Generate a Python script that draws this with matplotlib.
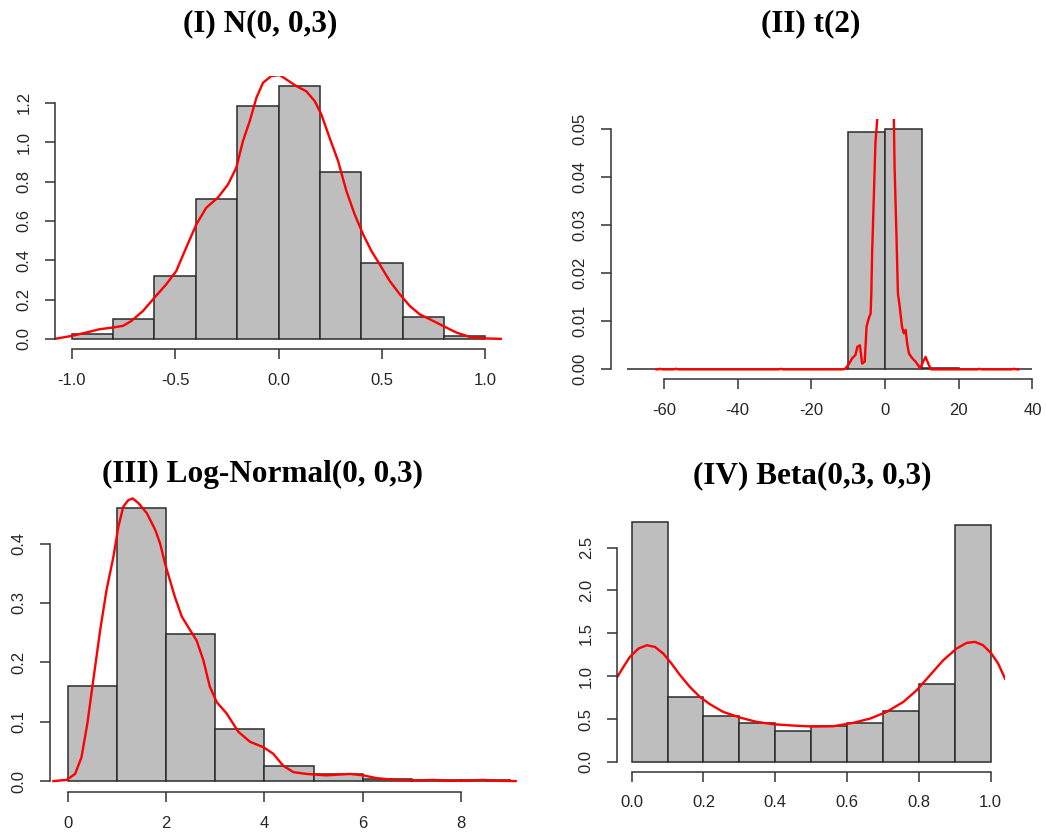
import numpy as np
import matplotlib.pyplot as plt

W, H = 1046, 840

# (I) N(0, 0,3)
n_breaks = [-1.0, -0.8, -0.6, -0.4, -0.2, 0.0, 0.2, 0.4, 0.6, 0.8, 1.0]
n_dens = [0.027, 0.10, 0.32, 0.709, 1.186, 1.285, 0.848, 0.388, 0.113, 0.015]
n_kx = [-1.082, -1.0, -0.93, -0.865, -0.80, -0.752, -0.711, -0.655, -0.599, -0.542,
        -0.494, -0.446, -0.397, -0.349, -0.293, -0.244, -0.204, -0.172, -0.139, -0.107,
        -0.075, -0.035, 0.006, 0.038, 0.086, 0.134, 0.175, 0.207, 0.247, 0.288,
        0.328, 0.368, 0.409, 0.449, 0.489, 0.537, 0.586, 0.634, 0.682, 0.731,
        0.795, 0.860, 0.924, 1.005, 1.078]
n_ky = [0.0, 0.015, 0.032, 0.049, 0.058, 0.066, 0.091, 0.142, 0.210, 0.278,
        0.345, 0.464, 0.582, 0.667, 0.718, 0.785, 0.870, 1.005, 1.107, 1.225,
        1.302, 1.336, 1.341, 1.319, 1.285, 1.259, 1.209, 1.141, 1.022, 0.904,
        0.752, 0.633, 0.531, 0.447, 0.379, 0.295, 0.227, 0.168, 0.125, 0.100,
        0.066, 0.032, 0.010, 0.002, 0.0]

# (II) t(2)
t_breaks = [-70, -60, -50, -40, -30, -20, -10, 0, 10, 20, 30, 40]
t_dens = [0.0001, 0.0001, 0.0, 0.0, 0.0001, 0.0, 0.0493, 0.0500, 0.0002, 0.0001, 0.0001]
t_kx = [-62.0, -61.6, -60.9, -60.3, -57.3, -56.7, -56.1, -28.9, -28.2, -27.5,
        -11.3, -10.7, -9.8, -8.9, -8.0, -7.5, -6.8, -6.2, -5.5, -5.0,
        -4.4, -3.9, -3.7, -3.5, -3.0, -2.6, -2.1, -1.5, 0.0, 1.8,
        2.4, 2.6, 3.1, 3.5, 4.0, 4.6, 5.1, 5.6, 6.0, 6.5,
        7.4, 8.3, 9.2, 9.6, 10.1, 11.0, 11.9, 12.5, 25.0, 25.6,
        26.2, 34.4, 35.0, 35.6, 36.2]
t_ky = [0.0, 0.0, 0.00012, 0.0, 0.0, 0.00013, 0.0, 0.0, 0.00011, 0.0,
        0.0, 0.0002, 0.0011, 0.0023, 0.003, 0.0047, 0.005, 0.0012, 0.0016, 0.0089,
        0.0106, 0.0116, 0.0158, 0.024, 0.0366, 0.047, 0.052, 0.07, 0.1, 0.07,
        0.052, 0.042, 0.028, 0.0158, 0.013, 0.0089, 0.0075, 0.0082, 0.0054, 0.0033,
        0.0023, 0.0016, 0.0006, 0.0002, 0.0012, 0.0026, 0.0009, 0.0, 0.0, 0.00012,
        0.0, 0.0, 0.00012, 0.0, 0.0]

# (III) Log-Normal(0, 0,3)
l_breaks = [0, 1, 2, 3, 4, 5, 6, 7, 8, 9]
l_dens = [0.160, 0.460, 0.248, 0.087, 0.026, 0.012, 0.0034, 0.001, 0.001]
l_kx = [-0.29, -0.02, 0.15, 0.28, 0.40, 0.52, 0.66, 0.79, 0.93, 1.03,
        1.13, 1.23, 1.32, 1.44, 1.61, 1.78, 1.88, 1.98, 2.08, 2.18,
        2.32, 2.49, 2.62, 2.76, 2.89, 3.03, 3.23, 3.47, 3.71, 3.98,
        4.18, 4.38, 4.59, 4.86, 5.26, 5.74, 6.01, 6.28, 6.62, 7.09,
        7.43, 7.70, 8.11, 8.45, 8.65, 9.11]
l_ky = [0.0, 0.002, 0.012, 0.040, 0.097, 0.170, 0.254, 0.322, 0.378, 0.428,
        0.462, 0.473, 0.476, 0.468, 0.451, 0.423, 0.400, 0.366, 0.338, 0.310,
        0.277, 0.254, 0.237, 0.203, 0.159, 0.133, 0.114, 0.083, 0.066, 0.057,
        0.046, 0.026, 0.015, 0.012, 0.0096, 0.012, 0.0096, 0.005, 0.0022, 0.001,
        0.002, 0.0005, 0.0005, 0.002, 0.0005, 0.0]

# (IV) Beta(0,3, 0,3)
b_breaks = [0.0, 0.1, 0.2, 0.3, 0.4, 0.5, 0.6, 0.7, 0.8, 0.9, 1.0]
b_dens = [2.803, 0.762, 0.537, 0.459, 0.358, 0.416, 0.455, 0.599, 0.906, 2.768]
b_kx = [-0.04, -0.023, -0.005, 0.019, 0.042, 0.065, 0.088, 0.111, 0.135, 0.162,
        0.190, 0.218, 0.255, 0.302, 0.348, 0.395, 0.450, 0.506, 0.562, 0.617,
        0.664, 0.710, 0.757, 0.794, 0.831, 0.868, 0.905, 0.933, 0.956, 0.979,
        1.002, 1.021, 1.040]
b_ky = [0.991, 1.108, 1.225, 1.322, 1.361, 1.341, 1.264, 1.147, 1.011, 0.875,
        0.758, 0.673, 0.583, 0.517, 0.467, 0.439, 0.424, 0.412, 0.416, 0.455,
        0.505, 0.583, 0.700, 0.836, 1.011, 1.186, 1.322, 1.388, 1.400, 1.361,
        1.264, 1.147, 0.972]

fig = plt.figure(figsize=(W / 100, H / 100), dpi=100)
plt.rcParams['font.family'] = ['Liberation Sans', 'DejaVu Sans']


def panel(left, top, right, bottom, breaks, dens, kx, ky, xticks, xlabs, yticks, ylabs):
    ax = fig.add_axes([left / W, 1 - bottom / H, (right - left) / W, (bottom - top) / H])
    br = np.array(breaks, dtype=float)
    ax.bar(br[:-1], dens, width=np.diff(br), align='edge', color='#bebebe',
           edgecolor='#2b2b2b', linewidth=1.1)
    ax.plot(kx, ky, color='red', lw=1.7)
    # R-style 4% padding round the histogram range
    rng = br[-1] - br[0]
    ax.set_xlim(br[0] - 0.04 * rng, br[-1] + 0.04 * rng)
    top_y = max(dens)
    ax.set_ylim(-0.04 * top_y, 1.04 * top_y)
    for s in ['top', 'right']:
        ax.spines[s].set_visible(False)
    ax.spines['left'].set_bounds(yticks[0], yticks[-1])
    ax.spines['bottom'].set_bounds(xticks[0], xticks[-1])
    for s in ['left', 'bottom']:
        ax.spines[s].set_color('#333333')
        ax.spines[s].set_linewidth(1.1)
    ax.set_xticks(xticks)
    ax.set_xticklabels(xlabs)
    ax.set_yticks(yticks)
    ax.set_yticklabels(ylabs, rotation=90, va='center')
    ax.tick_params(length=7, width=1.1, color='#333333', labelsize=12,
                   labelcolor='#262626', pad=10)
    ax.patch.set_alpha(0)
    return ax


panel(55, 76, 502, 349, n_breaks, n_dens, n_kx, n_ky,
      [-1.0, -0.5, 0.0, 0.5, 1.0], ['-1.0', '-0.5', '0.0', '0.5', '1.0'],
      [0.0, 0.2, 0.4, 0.6, 0.8, 1.0, 1.2], ['0.0', '0.2', '0.4', '0.6', '0.8', '1.0', '1.2'])
panel(610.7, 119, 1048.7, 379, t_breaks, t_dens, t_kx, t_ky,
      [-60, -40, -20, 0, 20, 40], ['-60', '-40', '-20', '0', '20', '40'],
      [0.0, 0.01, 0.02, 0.03, 0.04, 0.05], ['0.00', '0.01', '0.02', '0.03', '0.04', '0.05'])
panel(50, 497, 528, 792, l_breaks, l_dens, l_kx, l_ky,
      [0, 2, 4, 6, 8], ['0', '2', '4', '6', '8'],
      [0.0, 0.1, 0.2, 0.3, 0.4], ['0.0', '0.1', '0.2', '0.3', '0.4'])
panel(617.3, 512, 1005, 771.5, b_breaks, b_dens, b_kx, b_ky,
      [0.0, 0.2, 0.4, 0.6, 0.8, 1.0], ['0.0', '0.2', '0.4', '0.6', '0.8', '1.0'],
      [0.0, 0.5, 1.0, 1.5, 2.0, 2.5], ['0.0', '0.5', '1.0', '1.5', '2.0', '2.5'])

titles = ['(I) N(0, 0,3)', '(II) t(2)', '(III) Log-Normal(0, 0,3)', '(IV) Beta(0,3, 0,3)']
title_pos = [(260, 31.5), (811, 31.5), (262, 482), (812, 483)]
for t, (x, y) in zip(titles, title_pos):
    fig.text(x / W, 1 - y / H, t, ha='center', va='baseline', fontsize=22.5,
             fontweight='bold', family=['Liberation Serif', 'DejaVu Serif'])

fig.savefig('out.png', dpi=100)
